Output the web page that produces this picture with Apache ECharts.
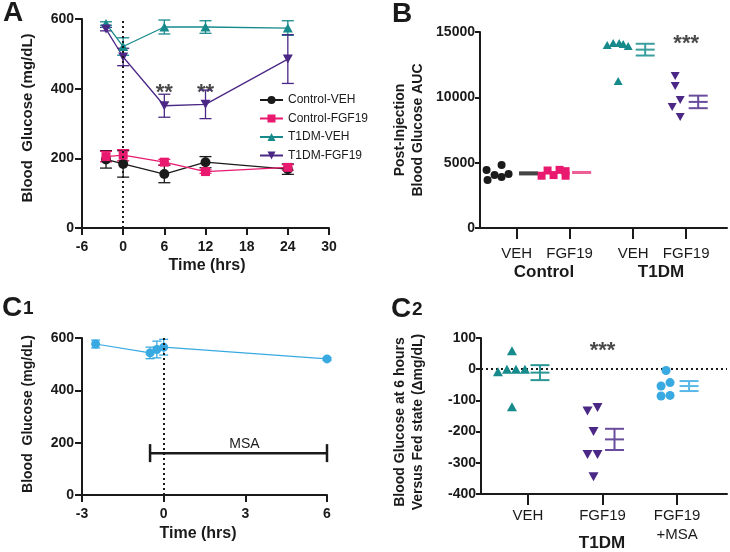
<!DOCTYPE html>
<html>
<head>
<meta charset="utf-8">
<script src="https://cdn.jsdelivr.net/npm/echarts@6/dist/echarts.min.js"></script>
<style>
  html, body { margin: 0; padding: 0; background: #fff; }
  #chart { width: 730px; height: 552px; }
</style>
</head>
<body>
<div id="chart"></div>
<script>
// ---------- data: panel A (time course, mean +/- SEM)
var timesA = [-2.5, 0, 6, 12, 24];
var ctrlVeh = [197, 184, 155, 189, 169];
var ctrlVehSem = [25, 38, 25, 16, 15];
var ctrlFgf = [205, 209, 189, 162, 174];
var ctrlFgfSem = [15, 16, 8, 5, 8];
var t1Veh = [587, 521, 577, 577, 574];
var t1VehSem = [5, 25, 20, 18, 21];
var t1Fgf = [571, 491, 351, 355, 485];
var t1FgfSem = [5, 25, 33, 41, 70];
var starTimesA = [6, 12];
var starLevelA = 402;

// ---------- data: panel B (post-injection AUC)
var bNames = ['VEH', 'FGF19', 'VEH', 'FGF19'];
var bCtrlVeh = [4440, 4820, 3670, 4060, 3900, 4130];
var bCtrlFgf = [4000, 4400, 4050, 4450, 4000, 4350];
var bT1Veh = [14000, 14160, 14160, 14080, 13930, 11250];
var bT1Fgf = [11630, 10870, 9800, 9260, 8500];
var bMeans = [4180, 4250, 13650, 9650];
var bSems = [80, 40, 450, 480];
var bStar = 14470;

// ---------- data: panel C1 (MSA time course)
var timesC1 = [-2.5, -0.5, -0.25, 0, 6];
var msaGlc = [577, 543, 556, 565, 520];
var msaGlcSem = [15, 22, 32, 30, 5];
var msaWindow = [-0.5, 6];
var msaBarLevel = 160;

// ---------- data: panel C2 (delta at 6 h)
var cNames = ['VEH', 'FGF19', 'FGF19\n+MSA'];
var cVeh = [-8, 0, 0, 0, 59, -120];
var cFgf = [-134, -123, -200, -273, -273, -345];
var cFgfMsa = [-4, -54, -43, -86, -84];
var cMeans = [-11, -225, -54];
var cSems = [24, 34, 16];
var cStar = 75;

// ---------- layout / style
var FF = '"Liberation Sans", Arial, Helvetica, sans-serif';
var INK = '#1a1a1a';
var PINK = '#e8196f';
var TEAL = '#178a8b';
var PURPLE = '#4b2886';
var BLUE = '#39a9e1';
var DOWN = 'path://M0,0L10,0L5,9Z';

var bPos = [0, 1, 2.2, 3.2];   // group slots on panel B x axis (GraphPad grouping gap)
var cPos = [0, 1, 2];
// horizontal spread of the dots in px (left of the tick), mean bar sits right of it
var jitB = [
  [-30, -15, -29, -22, -15, -8],
  [-28, -22, -16, -10, -4, -4],
  [-26, -20, -14, -10, -5, -15],
  [-11, -11, -6, -14, -6]
];
var jitC = [
  [-30, -21, -12, -3, -16, -16],
  [-15, -5, -9, -15, -5, -9],
  [-11, -16, -7, -16, -7]
];
var bMeanColors = ['#444444', '#ef5f97', '#3a9e9e', '#6a4c9c'];
var cMeanColors = ['#2a9696', '#6a4c9c', '#5ab8e8'];

function zip3(a, b, c) {
  return a.map(function (v, i) { return [v, b[i], c[i]]; });
}

function errBar(color, capW, lw) {
  return function (params, api) {
    var x = api.value(0), y = api.value(1), e = api.value(2);
    var t = api.coord([x, y + e]), b = api.coord([x, y - e]);
    var h = capW / 2;
    var st = { stroke: color, lineWidth: lw };
    return { type: 'group', children: [
      { type: 'line', shape: { x1: t[0], y1: t[1], x2: b[0], y2: b[1] }, style: st },
      { type: 'line', shape: { x1: t[0] - h, y1: t[1], x2: t[0] + h, y2: t[1] }, style: st },
      { type: 'line', shape: { x1: b[0] - h, y1: b[1], x2: b[0] + h, y2: b[1] }, style: st }
    ]};
  };
}

function meanBar(colors) {
  return function (params, api) {
    var x = api.value(0), m = api.value(1), e = api.value(2);
    var c = api.coord([x, m]), t = api.coord([x, m + e]), b = api.coord([x, m - e]);
    var cx = c[0] + 12, h = 9.5;
    var st = { stroke: colors[params.dataIndex], lineWidth: 2 };
    return { type: 'group', children: [
      { type: 'line', shape: { x1: cx, y1: t[1], x2: cx, y2: b[1] }, style: st },
      { type: 'line', shape: { x1: cx - h, y1: t[1], x2: cx + h, y2: t[1] }, style: st },
      { type: 'line', shape: { x1: cx - h, y1: b[1], x2: cx + h, y2: b[1] }, style: st },
      { type: 'line', shape: { x1: cx - h, y1: c[1], x2: cx + h, y2: c[1] }, style: st }
    ]};
  };
}

function dots(name, axis, pos, vals, offs, symbol, size, color, rotate) {
  return {
    name: name, type: 'scatter', xAxisIndex: axis, yAxisIndex: axis,
    symbol: symbol, symbolSize: size, symbolRotate: rotate || 0,
    itemStyle: { color: color, opacity: 1 },
    data: vals.map(function (v, i) { return { value: [pos, v], symbolOffset: [offs[i], 0] }; }),
    z: 5
  };
}

function stars(axis, pts, text) {
  return {
    type: 'scatter', xAxisIndex: axis, yAxisIndex: axis, symbolSize: 1,
    itemStyle: { color: 'rgba(0,0,0,0)' },
    label: { show: true, position: 'inside', formatter: text, color: INK,
      fontFamily: FF, fontSize: 22, fontWeight: 'bold', offset: [0, 5] },
    data: pts, silent: true
  };
}

function lineSeries(name, xs, ys, symbol, size, color) {
  return {
    name: name, type: 'line', xAxisIndex: 0, yAxisIndex: 0,
    data: xs.map(function (t, i) { return [t, ys[i]]; }),
    symbol: symbol, symbolSize: size, showAllSymbol: true,
    lineStyle: { color: color, width: 1.3 }, itemStyle: { color: color, opacity: 1 },
    z: 4
  };
}

function errSeries(axis, xs, ys, es, color, capW) {
  return {
    type: 'custom', xAxisIndex: axis, yAxisIndex: axis,
    data: zip3(xs, ys, es), encode: { x: 0, y: 1 },
    renderItem: errBar(color, capW, 1.3), silent: true, z: 3
  };
}

var axisLine = { show: true, onZero: false, lineStyle: { color: INK, width: 2 } };
var boldLbl = function (margin, extra) {
  var o = { color: INK, fontFamily: FF, fontWeight: 'bold', fontSize: 14, margin: margin };
  for (var k in extra) o[k] = extra[k];
  return o;
};
var tick = function (len) { return { show: true, length: len, lineStyle: { color: INK, width: 2 } }; };

var dotted = { color: INK, width: 2, type: [2, 3] };

var option = {
  animation: false,
  backgroundColor: '#fff',
  grid: [
    { left: 82, top: 19, width: 247, height: 209 },
    { left: 480, top: 32, width: 247, height: 196 },
    { left: 82, top: 338, width: 245, height: 157 },
    { left: 481, top: 338, width: 246, height: 156 }
  ],
  xAxis: [
    { type: 'value', gridIndex: 0, min: -6, max: 30, interval: 6,
      axisLine: axisLine, axisTick: tick(7), axisLabel: boldLbl(12), splitLine: { show: false } },
    { type: 'value', gridIndex: 1, min: -0.69, max: 3.97,
      axisLine: axisLine, axisTick: { show: true, length: 11, customValues: bPos, lineStyle: { color: INK, width: 2 } },
      axisLabel: { customValues: bPos, color: INK, fontFamily: FF, fontSize: 15, margin: 18,
        formatter: function (v) { return bNames[bPos.indexOf(v)] || ''; } },
      splitLine: { show: false } },
    { type: 'value', gridIndex: 2, min: -3, max: 6, interval: 3,
      axisLine: axisLine, axisTick: tick(7), axisLabel: boldLbl(12), splitLine: { show: false } },
    { type: 'value', gridIndex: 3, min: -0.63, max: 2.67,
      axisLine: axisLine, axisTick: { show: true, length: 11, customValues: cPos, lineStyle: { color: INK, width: 2 } },
      axisLabel: { customValues: cPos, color: INK, fontFamily: FF, fontSize: 15, margin: 12, lineHeight: 19,
        formatter: function (v) { return cNames[cPos.indexOf(v)] || ''; } },
      splitLine: { show: false } }
  ],
  yAxis: [
    { type: 'value', gridIndex: 0, min: 0, max: 600, interval: 200,
      axisLine: axisLine, axisTick: tick(7), axisLabel: boldLbl(8), splitLine: { show: false } },
    { type: 'value', gridIndex: 1, min: 0, max: 15000, interval: 5000,
      axisLine: axisLine, axisTick: tick(5),
      axisLabel: boldLbl(5, { formatter: function (v) { return String(v); } }), splitLine: { show: false } },
    { type: 'value', gridIndex: 2, min: 0, max: 600, interval: 200,
      axisLine: axisLine, axisTick: tick(7), axisLabel: boldLbl(8), splitLine: { show: false } },
    { type: 'value', gridIndex: 3, min: -400, max: 100, interval: 100,
      axisLine: axisLine, axisTick: tick(5), axisLabel: boldLbl(5), splitLine: { show: false } }
  ],
  legend: {
    data: ['Control-VEH', 'Control-FGF19', 'T1DM-VEH', 'T1DM-FGF19'],
    orient: 'vertical', left: 254, top: 89, itemWidth: 23, itemHeight: 10, itemGap: 6.5,
    textStyle: { fontFamily: FF, fontSize: 12, color: INK }, selectedMode: false
  },
  series: [
    // ---- A
    errSeries(0, timesA, ctrlVeh, ctrlVehSem, INK, 12),
    errSeries(0, timesA, ctrlFgf, ctrlFgfSem, PINK, 12),
    errSeries(0, timesA, t1Veh, t1VehSem, TEAL, 12),
    errSeries(0, timesA, t1Fgf, t1FgfSem, PURPLE, 12),
    (function () {
      var s = lineSeries('Control-VEH', timesA, ctrlVeh, 'circle', 10, INK);
      s.markLine = { silent: true, symbol: 'none', label: { show: false },
        lineStyle: dotted, data: [{ xAxis: 0 }] };
      return s;
    })(),
    lineSeries('Control-FGF19', timesA, ctrlFgf, 'rect', 9, PINK),
    lineSeries('T1DM-VEH', timesA, t1Veh, 'triangle', [10, 9], TEAL),
    lineSeries('T1DM-FGF19', timesA, t1Fgf, DOWN, [10, 9], PURPLE),
    stars(0, starTimesA.map(function (t) { return [t, starLevelA]; }), '**'),

    // ---- B
    dots('bCtrlVeh', 1, bPos[0], bCtrlVeh, jitB[0], 'circle', 8, INK),
    dots('bCtrlFgf', 1, bPos[1], bCtrlFgf, jitB[1], 'rect', 8, PINK),
    dots('bT1Veh', 1, bPos[2], bT1Veh, jitB[2], 'triangle', [9, 8], TEAL),
    dots('bT1Fgf', 1, bPos[3], bT1Fgf, jitB[3], DOWN, [9, 8], PURPLE),
    { type: 'custom', xAxisIndex: 1, yAxisIndex: 1, encode: { x: 0, y: 1 },
      data: zip3(bPos, bMeans, bSems), renderItem: meanBar(bMeanColors), silent: true, z: 4 },
    stars(1, [[bPos[3], bStar]], '***'),

    // ---- C1
    { type: 'custom', xAxisIndex: 2, yAxisIndex: 2,
      data: zip3(timesC1, msaGlc, msaGlcSem), encode: { x: 0, y: 1 },
      renderItem: errBar(BLUE, 9, 1.3), silent: true, z: 3 },
    { name: 'MSA', type: 'line', xAxisIndex: 2, yAxisIndex: 2,
      data: timesC1.map(function (t, i) { return [t, msaGlc[i]]; }),
      symbol: 'circle', symbolSize: 9, showAllSymbol: true,
      lineStyle: { color: BLUE, width: 1.2 }, itemStyle: { color: BLUE },
      markLine: { silent: true, symbol: 'none', label: { show: false }, lineStyle: dotted, data: [{ xAxis: 0 }] },
      z: 4 },
    { type: 'custom', xAxisIndex: 2, yAxisIndex: 2, silent: true, encode: { x: [0, 1], y: 2 },
      data: [[msaWindow[0], msaWindow[1], msaBarLevel]],
      renderItem: function (params, api) {
        var a = api.coord([api.value(0), api.value(2)]);
        var b = api.coord([api.value(1), api.value(2)]);
        var st = { stroke: INK, lineWidth: 2.5 };
        return { type: 'group', children: [
          { type: 'line', shape: { x1: a[0], y1: a[1], x2: b[0], y2: b[1] }, style: st },
          { type: 'line', shape: { x1: a[0], y1: a[1] - 9, x2: a[0], y2: a[1] + 9 }, style: st },
          { type: 'line', shape: { x1: b[0], y1: b[1] - 9, x2: b[0], y2: b[1] + 9 }, style: st },
          { type: 'text', style: { text: 'MSA', x: (a[0] + b[0]) / 2 + 6, y: a[1] - 2,
            textAlign: 'center', textVerticalAlign: 'bottom', align: 'center', verticalAlign: 'bottom',
            fill: INK, font: '14px ' + FF } }
        ]};
      } },

    // ---- C2
    dots('cVeh', 3, cPos[0], cVeh, jitC[0], 'triangle', [10, 9], TEAL),
    dots('cFgf', 3, cPos[1], cFgf, jitC[1], DOWN, [10, 9], PURPLE),
    dots('cFgfMsa', 3, cPos[2], cFgfMsa, jitC[2], 'circle', 9, BLUE),
    { type: 'custom', xAxisIndex: 3, yAxisIndex: 3, encode: { x: 0, y: 1 },
      data: zip3(cPos, cMeans, cSems), renderItem: meanBar(cMeanColors), silent: true, z: 4,
      markLine: { silent: true, symbol: 'none', label: { show: false }, lineStyle: dotted, data: [{ yAxis: 0 }] } },
    stars(3, [[cPos[1], cStar]], '***')
  ],
  graphic: [
    // panel letters
    { type: 'text', x: 3, y: 13, style: { text: 'A', font: 'bold 28px ' + FF, fill: INK, textVerticalAlign: 'middle', verticalAlign: 'middle' } },
    { type: 'text', x: 392, y: 14, style: { text: 'B', font: 'bold 28px ' + FF, fill: INK, textVerticalAlign: 'middle', verticalAlign: 'middle' } },
    { type: 'text', x: 2, y: 308, style: { text: 'C', font: 'bold 28px ' + FF, fill: INK, textVerticalAlign: 'middle', verticalAlign: 'middle' } },
    { type: 'text', x: 23, y: 318, style: { text: '1', font: 'bold 19px ' + FF, fill: INK, textVerticalAlign: 'bottom', verticalAlign: 'bottom' } },
    { type: 'text', x: 391, y: 309, style: { text: 'C', font: 'bold 28px ' + FF, fill: INK, textVerticalAlign: 'middle', verticalAlign: 'middle' } },
    { type: 'text', x: 412, y: 319, style: { text: '2', font: 'bold 19px ' + FF, fill: INK, textVerticalAlign: 'bottom', verticalAlign: 'bottom' } },

    // axis titles
    { type: 'text', x: 28, y: 118, rotation: Math.PI / 2, style: { text: 'Blood  Glucose (mg/dL)', font: 'bold 15px ' + FF, fill: INK, textAlign: 'center', align: 'center', textVerticalAlign: 'middle', verticalAlign: 'middle' } },
    { type: 'text', x: 207, y: 266, style: { text: 'Time (hrs)', font: 'bold 16px ' + FF, fill: INK, textAlign: 'center', align: 'center', textVerticalAlign: 'middle', verticalAlign: 'middle' } },
    { type: 'text', x: 400, y: 130, rotation: Math.PI / 2, style: { text: 'Post-Injection', font: 'bold 14px ' + FF, fill: INK, textAlign: 'center', align: 'center', textVerticalAlign: 'middle', verticalAlign: 'middle' } },
    { type: 'text', x: 418, y: 130, rotation: Math.PI / 2, style: { text: 'Blood Glucose AUC', font: 'bold 14px ' + FF, fill: INK, textAlign: 'center', align: 'center', textVerticalAlign: 'middle', verticalAlign: 'middle' } },
    { type: 'text', x: 544, y: 272, style: { text: 'Control', font: 'bold 17px ' + FF, fill: INK, textAlign: 'center', align: 'center', textVerticalAlign: 'middle', verticalAlign: 'middle' } },
    { type: 'text', x: 661, y: 272, style: { text: 'T1DM', font: 'bold 17px ' + FF, fill: INK, textAlign: 'center', align: 'center', textVerticalAlign: 'middle', verticalAlign: 'middle' } },
    { type: 'text', x: 28, y: 414, rotation: Math.PI / 2, style: { text: 'Blood  Glucose (mg/dL)', font: 'bold 14px ' + FF, fill: INK, textAlign: 'center', align: 'center', textVerticalAlign: 'middle', verticalAlign: 'middle' } },
    { type: 'text', x: 198, y: 534, style: { text: 'Time (hrs)', font: 'bold 16px ' + FF, fill: INK, textAlign: 'center', align: 'center', textVerticalAlign: 'middle', verticalAlign: 'middle' } },
    { type: 'text', x: 400, y: 422, rotation: Math.PI / 2, style: { text: 'Blood Glucose at 6 hours', font: 'bold 14px ' + FF, fill: INK, textAlign: 'center', align: 'center', textVerticalAlign: 'middle', verticalAlign: 'middle' } },
    { type: 'text', x: 418, y: 422, rotation: Math.PI / 2, style: { text: 'Versus Fed state (\u0394mg/dL)', font: 'bold 14px ' + FF, fill: INK, textAlign: 'center', align: 'center', textVerticalAlign: 'middle', verticalAlign: 'middle' } },
    { type: 'text', x: 602, y: 543, style: { text: 'T1DM', font: 'bold 17px ' + FF, fill: INK, textAlign: 'center', align: 'center', textVerticalAlign: 'middle', verticalAlign: 'middle' } }
  ]
};

var chart = echarts.init(document.getElementById('chart'), null, { renderer: 'canvas' });
chart.setOption(option);
</script>
</body>
</html>
